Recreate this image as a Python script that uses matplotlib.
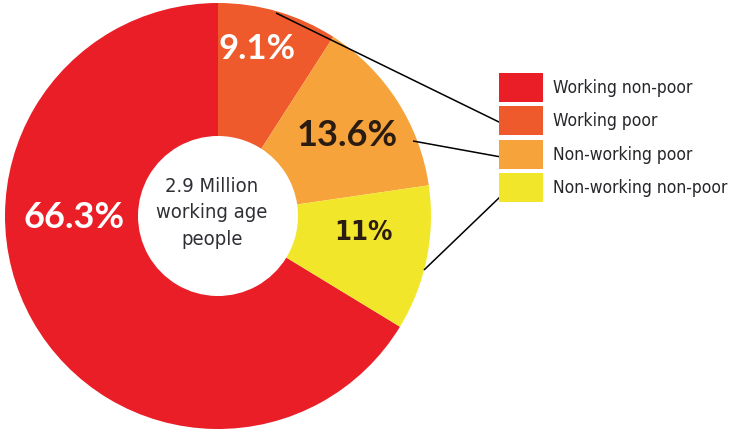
import os
import matplotlib
matplotlib.use("Agg")
import matplotlib.pyplot as plt
from matplotlib import font_manager
from matplotlib.font_manager import FontProperties

# ---- data ----
categories = ["Working non-poor", "Working poor", "Non-working poor", "Non-working non-poor"]
values = [66.3, 9.1, 13.6, 11.0]
value_labels = ["66.3%", "9.1%", "13.6%", "11%"]
center_text = "2.9 Million\nworking age\npeople"

# ---- style ----
colors = ["#E91E27", "#EE5A2B", "#F6A33C", "#F1E62A"]
label_colors = ["white", "white", "#2a1c10", "#2a1c10"]

files = {os.path.basename(f.fname): f.fname for f in font_manager.fontManager.ttflist}
cond_reg = files.get("DejaVuSansCondensed.ttf")
cond_bold = files.get("DejaVuSansCondensed-Bold.ttf")
names = {f.name for f in font_manager.fontManager.ttflist}
BOLD = "Lato" if "Lato" in names else "DejaVu Sans"


def fp_reg(size):
    if cond_reg:
        return FontProperties(fname=cond_reg, size=size)
    return FontProperties(family="Liberation Sans", size=size * 0.9)


def fp_bold(size):
    if cond_bold:
        return FontProperties(fname=cond_bold, size=size)
    return FontProperties(family="Liberation Sans", weight="bold", size=size * 0.9)


W, H = 731, 430
fig = plt.figure(figsize=(W / 100, H / 100), dpi=100)
ax = fig.add_axes([0, 0, 1, 1])


def Y(y):  # convert top-based pixel y to axes data y
    return H - y


cx, cy = 218, Y(216)
R_out, R_in = 213, 80

wedges, _ = ax.pie(values, colors=colors, startangle=90 + 3.6 * values[0],
                   counterclock=False, center=(cx, cy), radius=R_out,
                   wedgeprops=dict(width=R_out - R_in, linewidth=0))
ax.set_xlim(0, W)
ax.set_ylim(0, H)
ax.set_aspect("equal")
ax.axis("off")

# percent labels
label_pos = [(74, 218), (257, 49), (347, 136), (363, 233)]
for i, (txt, (x, y)) in enumerate(zip(value_labels, label_pos)):
    if txt == "11%":
        ax.text(x, Y(y), txt, ha="center", va="center", fontproperties=fp_bold(19.5),
                color=label_colors[i])
    else:
        ax.text(x, Y(y), txt, ha="center", va="center", fontsize=26 if i != 1 else 25,
                fontweight="bold", family=BOLD, color=label_colors[i])

# center text
ax.text(212, Y(213), center_text, ha="center", va="center",
        fontproperties=fp_reg(14.5), color="#2f2f35", linespacing=1.5)

# connector lines
segments = [((276, 13), (501, 123)), ((413, 141), (501, 157)), ((424, 270), (501, 196))]
for (x0, y0), (x1, y1) in segments:
    ax.plot([x0, x1], [Y(y0), Y(y1)], color="black", lw=1.1, solid_capstyle="butt")

# legend
leg_fp = fp_reg(12.5)
fs_px = leg_fp.get_size_in_points() * 100 / 72
box_h = 29
hh = (box_h / fs_px - 0.245) / 0.65
leg = ax.legend(wedges, categories, loc="upper left",
                bbox_to_anchor=(499 / W, Y(73) / H), bbox_transform=fig.transFigure,
                frameon=False, borderpad=0, borderaxespad=0,
                prop=leg_fp,
                handlelength=44 / fs_px, handleheight=hh,
                labelspacing=4.3 / fs_px, handletextpad=10 / fs_px)
for t in leg.get_texts():
    t.set_color("#26262b")

fig.savefig("out.png", dpi=100)
